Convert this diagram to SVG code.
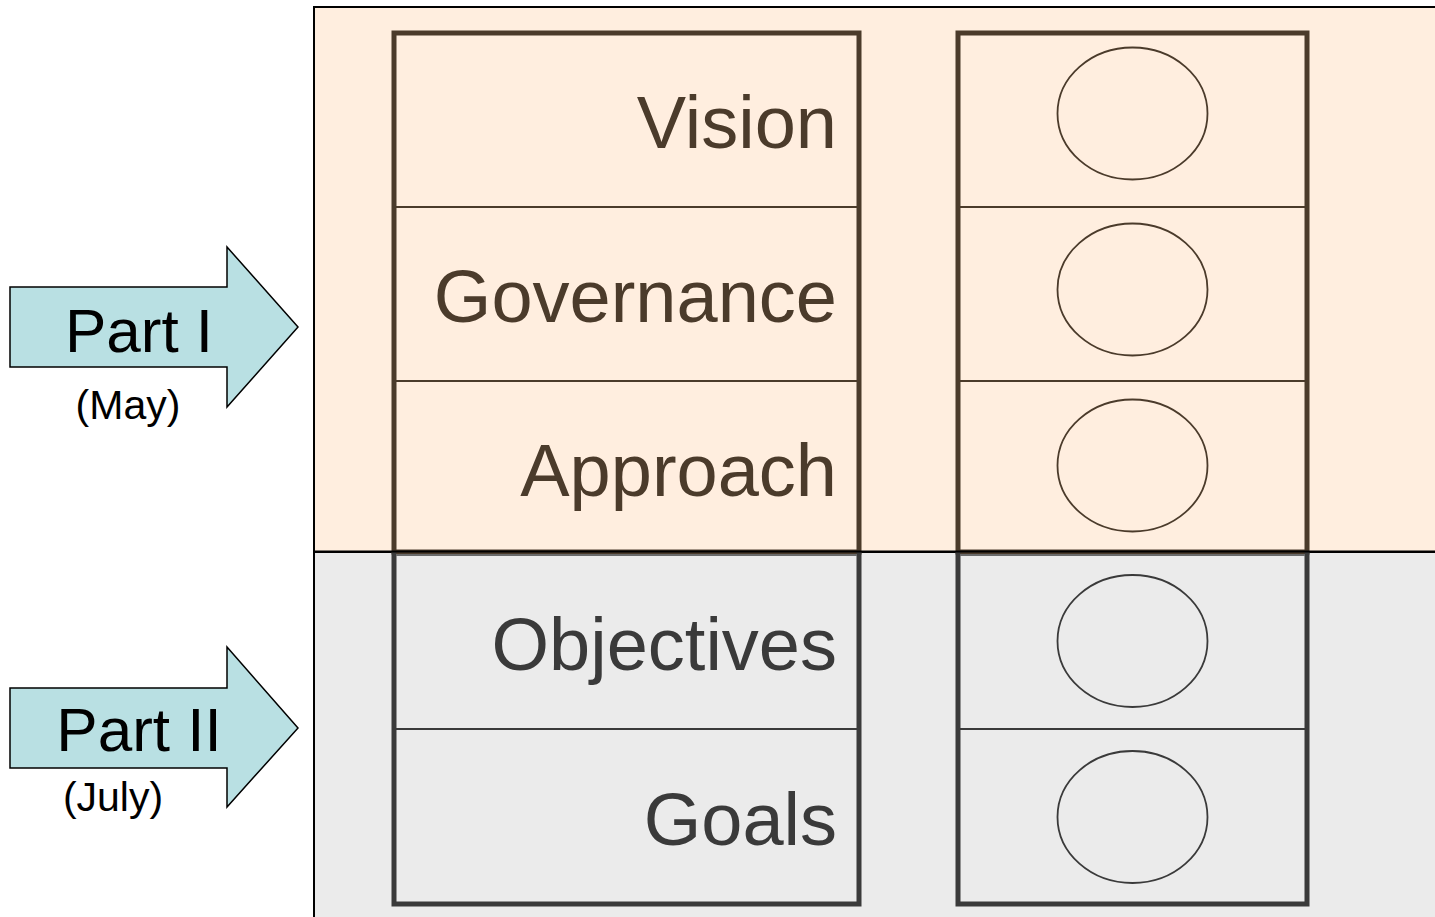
<svg xmlns="http://www.w3.org/2000/svg" width="1435" height="917" viewBox="0 0 1435 917">
<style>
.lbl{font-family:"Liberation Sans",Arial,sans-serif;font-size:74px;text-anchor:end}
.top{fill:#4B3B2B}
.bot{fill:#3A3A3A}
.ct{stroke:#4B3B2B;fill:none}
.cb{stroke:#3A3A3A;fill:none}
.arrow{fill:#B9E0E3;stroke:#000;stroke-width:1.5}
.part{font-family:"Liberation Sans",Arial,sans-serif;font-size:62px;fill:#000;text-anchor:middle}
.sub{font-family:"Liberation Sans",Arial,sans-serif;font-size:41px;fill:#000;text-anchor:middle}
</style>
<rect x="0" y="0" width="1435" height="917" fill="#fff"/>
<g id="background">
<rect x="314" y="7" width="1125" height="545" fill="#FFEEDF" stroke="#000" stroke-width="2"/>
<rect x="314" y="552" width="1125" height="370" fill="#EBEBEB" stroke="#000" stroke-width="2"/>
</g>
<g id="labels-column">
<rect x="394" y="33" width="465" height="519" class="ct" stroke-width="5"/>
<path d="M394,552 V904 H859 V552" class="cb" stroke-width="5"/>
<line x1="396" y1="555" x2="857" y2="555" stroke="#6A6A6A" stroke-width="2"/>
<line x1="396" y1="207" x2="857" y2="207" class="ct" stroke-width="2"/>
<line x1="396" y1="381" x2="857" y2="381" class="ct" stroke-width="2"/>
<line x1="396" y1="729" x2="857" y2="729" class="cb" stroke-width="2"/>
</g>
<g id="circles-column">
<rect x="958" y="33" width="349" height="519" class="ct" stroke-width="5"/>
<path d="M958,552 V904 H1307 V552" class="cb" stroke-width="5"/>
<line x1="960" y1="555" x2="1305" y2="555" stroke="#6A6A6A" stroke-width="2"/>
<line x1="960" y1="207" x2="1305" y2="207" class="ct" stroke-width="2"/>
<line x1="960" y1="381" x2="1305" y2="381" class="ct" stroke-width="2"/>
<line x1="960" y1="729" x2="1305" y2="729" class="cb" stroke-width="2"/>
</g>
<line x1="314" y1="551.5" x2="1435" y2="551.5" stroke="#000" stroke-width="2"/>
<g id="node-vision"><text class="lbl top" x="837" y="148">Vision</text><ellipse cx="1132.5" cy="113.5" rx="75" ry="66" class="ct" stroke-width="1.8"/></g>
<g id="node-governance"><text class="lbl top" x="837" y="322">Governance</text><ellipse cx="1132.5" cy="289.5" rx="75" ry="66" class="ct" stroke-width="1.8"/></g>
<g id="node-approach"><text class="lbl top" x="837" y="496">Approach</text><ellipse cx="1132.5" cy="465.5" rx="75" ry="66" class="ct" stroke-width="1.8"/></g>
<g id="node-objectives"><text class="lbl bot" x="837" y="670">Objectives</text><ellipse cx="1132.5" cy="641" rx="75" ry="66" class="cb" stroke-width="1.8"/></g>
<g id="node-goals"><text class="lbl bot" x="837" y="845">Goals</text><ellipse cx="1132.5" cy="817" rx="75" ry="66" class="cb" stroke-width="1.8"/></g>
<g id="node-part1">
<path class="arrow" d="M10,287 H227 V247 L298,327 L227,407 V367 H10 Z"/>
<text class="part" x="139" y="352">Part I</text>
<text class="sub" x="128" y="419">(May)</text>
</g>
<g id="node-part2">
<path class="arrow" d="M10,688 H227 V647 L298,728 L227,807 V768 H10 Z"/>
<text class="part" x="139" y="751">Part II</text>
<text class="sub" x="113" y="811">(July)</text>
</g>
<g id="connectors"></g>
</svg>
